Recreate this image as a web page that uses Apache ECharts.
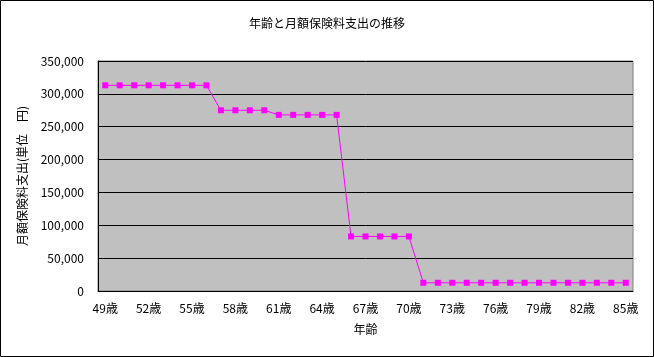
<!DOCTYPE html>
<html><head><meta charset="utf-8">
<script src="https://cdn.jsdelivr.net/npm/echarts@6/dist/echarts.min.js"></script>
<style>html,body{margin:0;padding:0;background:#fff}#c{width:654px;height:357px}</style>
</head><body><div id="c"></div>
<script>
const ages = [];
for (let a = 49; a <= 85; a++) ages.push(a + '歳');
const premiums = [
  313000,313000,313000,313000,313000,313000,313000,313000,
  275000,275000,275000,275000,
  268000,268000,268000,268000,268000,
  83000,83000,83000,83000,83000,
  12500,12500,12500,12500,12500,12500,12500,12500,12500,12500,12500,12500,12500,12500,12500
];
const yTicks = [0,50000,100000,150000,200000,250000,300000,350000];
const font = '"Noto Sans CJK JP", sans-serif';
const chart = echarts.init(document.getElementById('c'));
chart.setOption({
  animation: false,
  title: { text: '年齢と月額保険料支出の推移', left: 'center', top: 12,
    textStyle: { fontSize: 12, fontWeight: 'normal', color: '#000', fontFamily: font } },
  graphic: [{ type: 'rect', shape: { x: 0.5, y: 0.5, width: 653, height: 356 },
    style: { fill: 'none', stroke: '#000', lineWidth: 1 }, silent: true }],
  grid: { left: 98, right: 21, top: 61, bottom: 66, show: true, backgroundColor: '#C0C0C0', borderColor: '#808080', borderWidth: 1 },
  xAxis: {
    type: 'category', data: ages, boundaryGap: true,
    name: '年齢', nameLocation: 'middle', nameGap: 32,
    nameTextStyle: { fontSize: 12, color: '#000', fontFamily: font },
    axisLine: { lineStyle: { color: '#000' } },
    axisTick: { interval: 0, length: 4, inside: false, lineStyle: { color: '#000' } },
    axisLabel: { interval: 2, fontSize: 12, color: '#000', fontFamily: font, margin: 11 }
  },
  yAxis: {
    type: 'value', min: 0, max: 350000, interval: 50000,
    name: '月額保険料支出(単位　円)', nameLocation: 'middle', nameGap: 70,
    nameTextStyle: { fontSize: 12, color: '#000', fontFamily: font },
    axisLine: { show: true, lineStyle: { color: '#000' } },
    axisTick: { show: false },
    splitLine: { lineStyle: { color: '#000', width: 1 } },
    axisLabel: { fontSize: 12, color: '#000', fontFamily: font, margin: 14,
      formatter: v => v.toLocaleString('en-US') }
  },
  series: [{
    type: 'line', data: premiums, symbol: 'rect', symbolSize: 6,
    lineStyle: { color: '#FF00FF', width: 1 },
    itemStyle: { color: '#FF00FF' }
  }]
});
</script></body></html>
